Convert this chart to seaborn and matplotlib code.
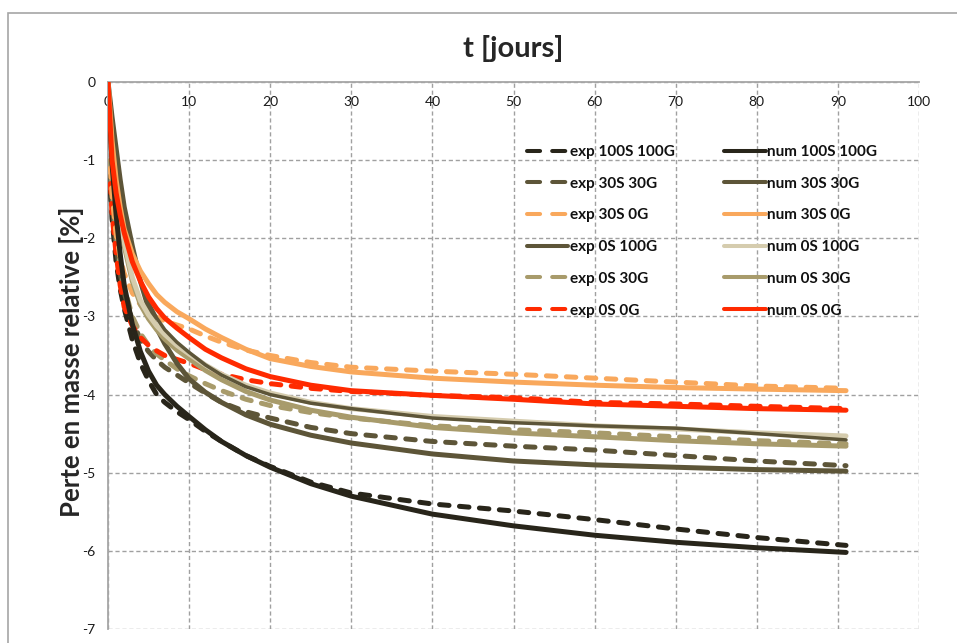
import matplotlib
matplotlib.use("Agg")
import matplotlib.pyplot as plt
from matplotlib.lines import Line2D
from matplotlib.patches import Rectangle
import pandas as pd
import seaborn as sns

sns.set_theme(style="white")
plt.rcParams["font.family"] = ["Lato", "DejaVu Sans"]

# Time samples (days)
t_num = [0, 0.5, 1, 1.5, 2, 3, 4, 5, 6, 7, 8.5, 10, 12, 14, 17, 20, 25, 30, 40, 50, 60, 70, 80, 91]
t_exp = [0.3, 0.5, 1, 1.5, 2, 3, 4, 5, 6, 7, 8.5, 10, 12, 14, 17, 20, 25, 30, 40, 50, 60, 70, 80, 91]

# Relative mass loss [%] - measurements
exp_100s100g = [-1.4, -1.75, -2.3, -2.65, -2.9, -3.3, -3.6, -3.82, -4.0, -4.1, -4.22, -4.32, -4.47, -4.6, -4.78, -4.92, -5.12, -5.26, -5.4, -5.49, -5.6, -5.72, -5.83, -5.93]
exp_30s30g = [-1.2, -1.55, -2.1, -2.45, -2.7, -3.05, -3.3, -3.45, -3.56, -3.65, -3.75, -3.85, -3.98, -4.1, -4.22, -4.3, -4.42, -4.5, -4.6, -4.66, -4.71, -4.78, -4.85, -4.91]
exp_30s0g = [-1.1, -1.45, -1.95, -2.25, -2.45, -2.7, -2.85, -2.95, -3.01, -3.06, -3.11, -3.16, -3.25, -3.33, -3.43, -3.5, -3.59, -3.65, -3.7, -3.74, -3.79, -3.84, -3.89, -3.92]
exp_0s100g = [0, -0.45, -0.9, -1.3, -1.62, -2.15, -2.55, -2.82, -3.02, -3.17, -3.33, -3.46, -3.62, -3.75, -3.9, -4.0, -4.11, -4.18, -4.3, -4.36, -4.4, -4.43, -4.5, -4.58]
exp_0s30g = [-1.0, -1.35, -1.95, -2.35, -2.62, -3.0, -3.22, -3.37, -3.48, -3.56, -3.67, -3.76, -3.86, -3.95, -4.06, -4.14, -4.23, -4.3, -4.4, -4.45, -4.49, -4.54, -4.59, -4.63]
exp_0s0g = [-1.3, -1.7, -2.2, -2.6, -2.88, -3.12, -3.27, -3.37, -3.44, -3.5, -3.55, -3.6, -3.68, -3.74, -3.81, -3.86, -3.92, -3.96, -4.01, -4.04, -4.1, -4.12, -4.15, -4.18]

# Relative mass loss [%] - simulations
num_100s100g = [0, -1.05, -1.7, -2.2, -2.6, -3.1, -3.45, -3.7, -3.88, -4.0, -4.15, -4.28, -4.45, -4.6, -4.78, -4.93, -5.14, -5.3, -5.53, -5.68, -5.8, -5.89, -5.96, -6.02]
num_30s30g = [0, -0.45, -0.85, -1.25, -1.6, -2.1, -2.55, -2.9, -3.15, -3.35, -3.6, -3.8, -3.97, -4.1, -4.26, -4.38, -4.52, -4.62, -4.76, -4.85, -4.9, -4.93, -4.96, -4.98]
num_30s0g = [0, -0.75, -1.25, -1.6, -1.88, -2.2, -2.42, -2.58, -2.72, -2.82, -2.94, -3.03, -3.16, -3.27, -3.42, -3.54, -3.64, -3.71, -3.79, -3.84, -3.88, -3.91, -3.93, -3.95]
num_0s100g = [0, -0.8, -1.35, -1.75, -2.05, -2.5, -2.8, -2.98, -3.12, -3.23, -3.37, -3.48, -3.62, -3.74, -3.88, -3.98, -4.1, -4.18, -4.28, -4.34, -4.4, -4.44, -4.49, -4.53]
num_0s30g = [0, -0.8, -1.4, -1.8, -2.1, -2.55, -2.85, -3.03, -3.17, -3.29, -3.43, -3.54, -3.69, -3.81, -3.96, -4.07, -4.2, -4.29, -4.42, -4.49, -4.54, -4.59, -4.63, -4.66]
num_0s0g = [0, -1.0, -1.42, -1.7, -1.93, -2.3, -2.55, -2.75, -2.9, -3.02, -3.15, -3.27, -3.42, -3.53, -3.67, -3.77, -3.88, -3.95, -4.01, -4.06, -4.12, -4.15, -4.18, -4.2]

x_ticks = [0, 10, 20, 30, 40, 50, 60, 70, 80, 90, 100]
y_ticks = [0, -1, -2, -3, -4, -5, -6, -7]

C_100 = "#28251A"
C_3030 = "#5D5538"
C_ORANGE = "#F9A85C"
C_BEIGE = "#D5CCAE"
C_KHAKI = "#A89B6B"
C_RED = "#FF2A00"

DASH = (1.9, 2.1)
LW = 3.6

# (label, times, values, colour, dashed, width)
series = [
    ("exp 100S 100G", t_exp, exp_100s100g, C_100, True, LW),
    ("exp 30S 30G", t_exp, exp_30s30g, C_3030, True, LW),
    ("exp 30S 0G", t_exp, exp_30s0g, C_ORANGE, True, LW),
    ("exp 0S 100G", t_num, exp_0s100g, C_3030, False, 2.5),
    ("exp 0S 30G", t_exp, exp_0s30g, C_KHAKI, True, LW),
    ("exp 0S 0G", t_exp, exp_0s0g, C_RED, True, LW),
    ("num 100S 100G", t_num, num_100s100g, C_100, False, LW),
    ("num 30S 30G", t_num, num_30s30g, C_3030, False, LW),
    ("num 30S 0G", t_num, num_30s0g, C_ORANGE, False, LW),
    ("num 0S 100G", t_num, num_0s100g, C_BEIGE, False, LW),
    ("num 0S 30G", t_num, num_0s30g, C_KHAKI, False, LW),
    ("num 0S 0G", t_num, num_0s0g, C_RED, False, LW),
]

W, H, DPI = 957, 643, 100
fig = plt.figure(figsize=(W / DPI, H / DPI), dpi=DPI)
fig.patch.set_facecolor("white")

# outer chart frame
fig.patches.append(Rectangle((8 / W, -0.05), 1.2, 1 - 13 / H + 0.05,
                             transform=fig.transFigure, fill=False,
                             edgecolor="#A6A6A6", lw=1.2, zorder=0))

ax = fig.add_axes([108 / W, 1 - 629 / H, 811 / W, 547 / H])
ax.set_facecolor("none")

draw_order = [0, 1, 4, 5, 2, 7, 10, 9, 3, 6, 8, 11]
for i in draw_order:
    label, tt, vals, col, dashed, lw = series[i]
    df = pd.DataFrame({"t": tt, "v": vals})
    sns.lineplot(data=df, x="t", y="v", ax=ax, color=col, lw=lw,
                 sort=False, legend=False, estimator=None, zorder=3)
    line = ax.lines[-1]
    line.set_solid_capstyle("round")
    line.set_dash_capstyle("round")
    line.set_solid_joinstyle("round")
    if dashed:
        line.set_dashes(DASH)

ax.set_xlim(0, 100)
ax.set_ylim(-7, 0)
ax.set_xticks(x_ticks)
ax.set_yticks(y_ticks)
ax.set_xticklabels([str(v) for v in x_ticks])
ax.set_yticklabels([str(v) for v in y_ticks])

ax.grid(True, color="#A0A0A0", linestyle=(0, (3, 2)), lw=1.0, zorder=1)
ax.set_axisbelow(True)

for s in ("top", "right"):
    ax.spines[s].set_visible(False)
ax.spines["bottom"].set_position(("data", 0))
for s in ("bottom", "left"):
    ax.spines[s].set_color("#A6A6A6")
    ax.spines[s].set_linewidth(1.3)
ax.spines["bottom"].set_zorder(2)

ax.tick_params(axis="x", direction="out", length=4, width=1, color="#A6A6A6",
               labelsize=10, pad=6, labelcolor="#1a1a1a")
ax.tick_params(axis="y", direction="out", length=4, width=1, color="#A6A6A6",
               labelsize=10, pad=5, labelcolor="#1a1a1a")

ax.set_xlabel("")
ax.set_ylabel("Perte en masse relative [%]", fontsize=18.5, fontweight="bold")
ax.yaxis.set_label_coords((84 - 108) / 811, (629 - 362) / 547)
fig.text(513 / W, 1 - 48 / H, "t [jours]", fontsize=21, fontweight="bold",
         ha="center", va="center")

handles = []
for label, tt, vals, col, dashed, lw in series:
    h = Line2D([0], [0], color=col, lw=2.9, solid_capstyle="round",
               dash_capstyle="round")
    if dashed:
        h.set_dashes((3.25, 3.0))
    handles.append((h, label))

leg = ax.legend([h for h, _ in handles], [l for _, l in handles], ncol=2,
                loc="upper left", bbox_to_anchor=(0.5166, 0.885),
                frameon=False, fontsize=11, handlelength=2.7,
                handletextpad=0.1, columnspacing=3.26, labelspacing=1.16,
                borderpad=0, borderaxespad=0)
for txt in leg.get_texts():
    txt.set_fontweight("bold")
    txt.set_color("#111111")

fig.savefig("out.png", dpi=DPI)
